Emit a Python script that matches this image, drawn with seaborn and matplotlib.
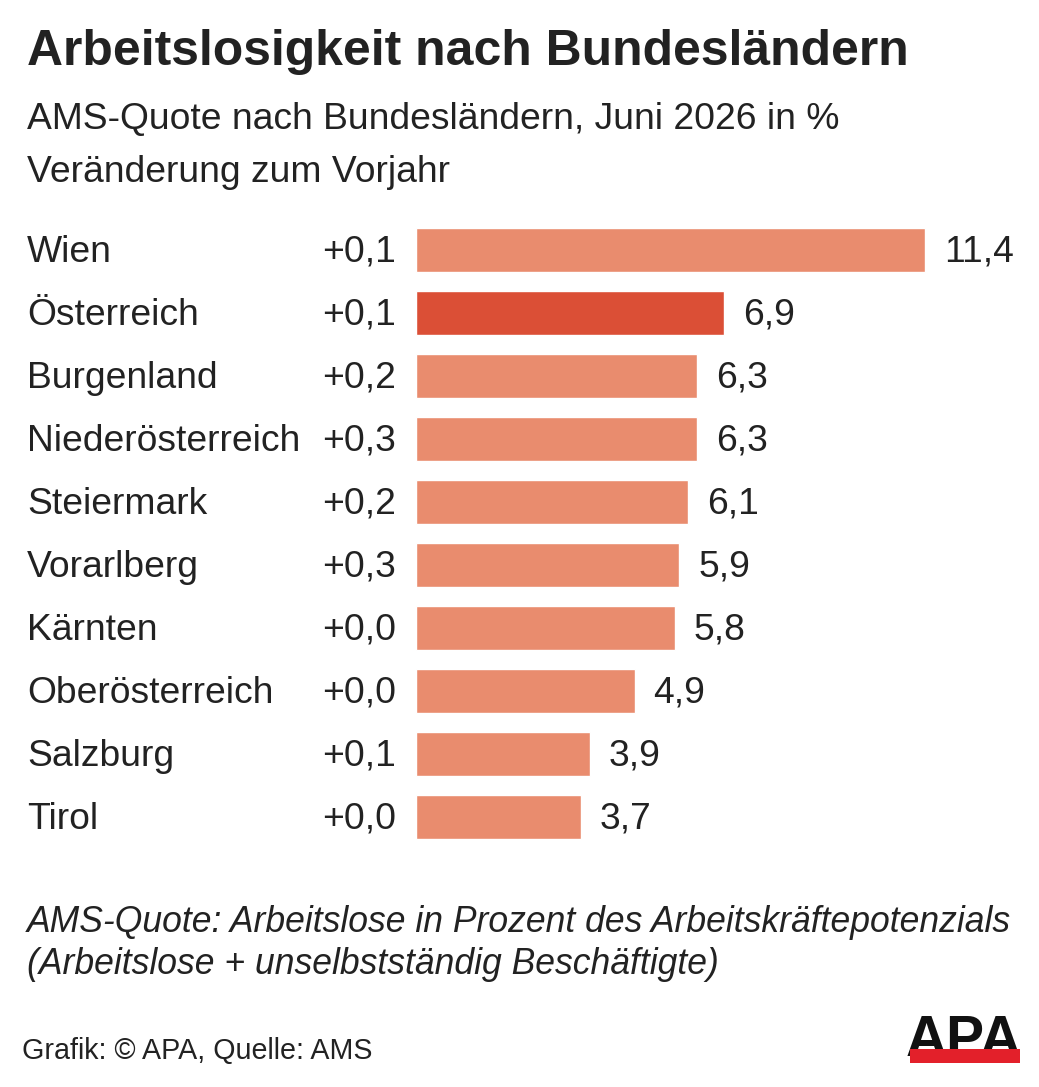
import matplotlib
matplotlib.use("Agg")
import matplotlib.pyplot as plt
import seaborn as sns
import pandas as pd
from matplotlib.patches import Rectangle

regions = ["Wien", "Österreich", "Burgenland", "Niederösterreich", "Steiermark",
           "Vorarlberg", "Kärnten", "Oberösterreich", "Salzburg", "Tirol"]
quote = [11.4, 6.9, 6.3, 6.3, 6.1, 5.9, 5.8, 4.9, 3.9, 3.7]
change = [0.1, 0.1, 0.2, 0.3, 0.2, 0.3, 0.0, 0.0, 0.1, 0.0]
highlight = "Österreich"

sns.set_style("white")
plt.rcParams['font.family'] = ['Liberation Sans', 'DejaVu Sans']

TXT = "#222222"
LIGHT = "#E98C6E"
DARK = "#DB4F36"

df = pd.DataFrame({"region": regions, "quote": quote, "change": change})
palette = {r: (DARK if r == highlight else LIGHT) for r in regions}

W, H = 1039, 1087
fig = plt.figure(figsize=(W / 100, H / 100), dpi=100)
fig.patch.set_facecolor("white")

# bars start at 416 px, 1 unit ~ 44.65 px, rows 63 px apart
xmax = 13
ax = fig.add_axes([416 / W, 1 - 848.5 / H, xmax * 44.65 / W, 630 / H])
sns.barplot(data=df, x="quote", y="region", hue="region", palette=palette,
            legend=False, orient="h", width=0.7, saturation=1, ax=ax)
ax.set_xlim(0, xmax)
ax.set_ylim(9.5, -0.5)
ax.axis("off")

fmt = lambda v: f"{v:.1f}".replace(".", ",")
for i, row in df.iterrows():
    y = i - 0.03
    ax.text(row["quote"] + 0.42, y, fmt(row["quote"]), va="center_baseline",
            ha="left", fontsize=26.8, color=TXT)
    ax.text(-0.45, y, "+" + fmt(row["change"]), va="center_baseline", ha="right",
            fontsize=26.8, color=TXT)
    ax.annotate(row["region"], xy=(27 / W, y), xycoords=("figure fraction", "data"),
                va="center_baseline", ha="left", fontsize=26.8, color=TXT)

fig.text(27 / W, 1 - 52 / H, "Arbeitslosigkeit nach Bundesländern", fontsize=35.9,
         fontweight="bold", color=TXT, va="center", ha="left")
fig.text(27 / W, 1 - 120 / H, "AMS-Quote nach Bundesländern, Juni 2026 in %",
         fontsize=26.8, color=TXT, va="center", ha="left")
fig.text(27 / W, 1 - 172 / H, "Veränderung zum Vorjahr",
         fontsize=26.8, color=TXT, va="center", ha="left")
fig.text(27 / W, 1 - 922 / H,
         "AMS-Quote: Arbeitslose in Prozent des Arbeitskräftepotenzials",
         fontsize=25.6, style="italic", color=TXT, va="center", ha="left")
fig.text(27 / W, 1 - 965 / H,
         "(Arbeitslose + unselbstständig Beschäftigte)",
         fontsize=25.6, style="italic", color=TXT, va="center", ha="left")
fig.text(22 / W, 1 - 1051 / H, "Grafik: © APA, Quelle: AMS",
         fontsize=20.6, color=TXT, va="center", ha="left")

# APA logo
fig.text(964 / W, 1 - 1056 / H, "APA", fontsize=41, fontweight="bold",
         color="#111111", va="baseline", ha="center")
fig.patches.append(Rectangle((910 / W, 1 - 1063 / H), 110 / W, 14 / H,
                             transform=fig.transFigure, facecolor="#E3202A",
                             edgecolor="none", zorder=5))

fig.savefig("out.png", dpi=100, facecolor="white")
